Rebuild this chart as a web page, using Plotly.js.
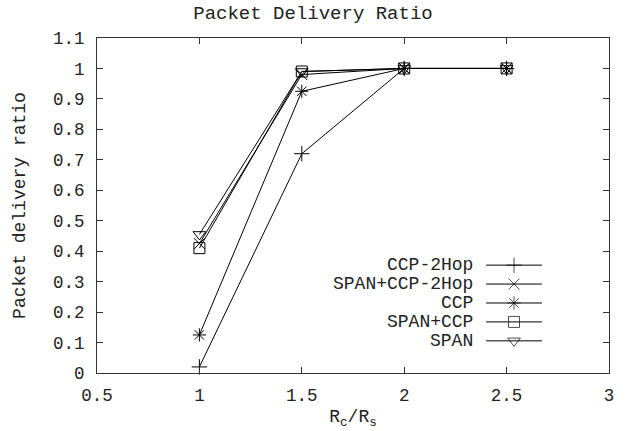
<!DOCTYPE html>
<html>
<head>
<meta charset="utf-8">
<script src="https://cdn.plot.ly/plotly-3.0.1.min.js"></script>
<style>html,body{margin:0;padding:0;background:#fff;}#chart{width:626px;height:431px;}</style>
</head>
<body>
<div id="chart"></div>
<script>
// Data
const xValues = [1, 1.5, 2, 2.5];
const seriesNames = ["CCP-2Hop", "SPAN+CCP-2Hop", "CCP", "SPAN+CCP", "SPAN"];
const ccp2hop = [0.02, 0.72, 1.0, 1.0];
const spanCcp2hop = [0.425, 0.98, 1.0, 1.0];
const ccp = [0.125, 0.925, 1.0, 1.0];
const spanCcp = [0.41, 0.99, 1.0, 1.0];
const span = [0.455, 0.99, 1.0, 1.0];
const seriesValues = [ccp2hop, spanCcp2hop, ccp, spanCcp, span];
const xTickVals = [0.5, 1, 1.5, 2, 2.5, 3];
const yTickVals = [0, 0.1, 0.2, 0.3, 0.4, 0.5, 0.6, 0.7, 0.8, 0.9, 1, 1.1];
const yTickText = ["0", "0.1", "0.2", "0.3", "0.4", "0.5", "0.6", "0.7", "0.8", "0.9", "1", "1.1"];

// Styles
const symbols = ["cross-thin-open", "x-thin-open", "asterisk-open", "square-open", "triangle-down-open"];
const FONT = "Liberation Mono";
const FS = 18;
const TFS = 17.5;
const TXT = "#222";

const traces = [];
seriesValues.forEach((vals, i) => {
  traces.push({
    x: xValues, y: vals, name: seriesNames[i], type: "scatter", mode: "lines+markers",
    line: {color: "#000", width: 1},
    marker: {symbol: symbols[i], size: 11, color: "#000", line: {color: "#000", width: 1}},
    showlegend: false, cliponaxis: false
  });
});

// Custom legend (gnuplot style: text on left, sample on right)
const legX0 = 0.760, legX1 = 0.869;
const legRowTop = 0.322, legRowStep = 0.0565;
const annotations = [];
seriesNames.forEach((name, i) => {
  const yy = legRowTop - i * legRowStep;
  traces.push({
    x: [legX0, (legX0 + legX1) / 2, legX1], y: [yy, yy, yy],
    xaxis: "x2", yaxis: "y2", type: "scatter", mode: "lines+markers",
    line: {color: "#000", width: 1},
    marker: {symbol: symbols[i], size: [0, 11, 0], color: "#000", line: {color: "#000", width: 1}},
    showlegend: false, hoverinfo: "skip"
  });
  annotations.push({
    xref: "paper", yref: "paper", x: 0.738, y: yy, xanchor: "right", yanchor: "middle",
    text: name, showarrow: false, font: {family: FONT, size: FS, color: TXT}
  });
});

function axisCommon() {
  return {
    showline: true, linecolor: "#333", linewidth: 1, mirror: "ticks",
    ticks: "inside", ticklen: 6, tickwidth: 1, tickcolor: "#333",
    showgrid: false, zeroline: false,
    tickfont: {family: FONT, size: TFS, color: TXT}
  };
}

const layout = {
  width: 626, height: 431,
  margin: {l: 97, r: 17, t: 38, b: 58},
  paper_bgcolor: "#fff", plot_bgcolor: "#fff",
  font: {family: FONT, size: FS, color: TXT},
  showlegend: false,
  title: {text: "Packet Delivery Ratio", font: {family: FONT, size: 19, color: TXT},
          x: 0.5, xref: "container", y: 0.972, yanchor: "middle"},
  xaxis: Object.assign(axisCommon(), {
    range: [0.5, 3], tickvals: xTickVals, ticktext: xTickVals.map(String),
    ticklabelstandoff: 6,
    title: {text: "R<sub>c</sub>/R<sub>s</sub>", font: {family: FONT, size: FS, color: TXT}, standoff: 4}
  }),
  yaxis: Object.assign(axisCommon(), {
    range: [0, 1.1], tickvals: yTickVals, ticktext: yTickText,
    ticklabelstandoff: 8,
    title: {text: "Packet delivery ratio", font: {family: FONT, size: FS, color: TXT}, standoff: 22}
  }),
  xaxis2: {overlaying: "x", anchor: "y2", range: [0, 1], visible: false},
  yaxis2: {overlaying: "y", anchor: "x2", range: [0, 1], visible: false},
  annotations: annotations
};

Plotly.newPlot("chart", traces, layout, {staticPlot: true, displayModeBar: false});
</script>
</body>
</html>
